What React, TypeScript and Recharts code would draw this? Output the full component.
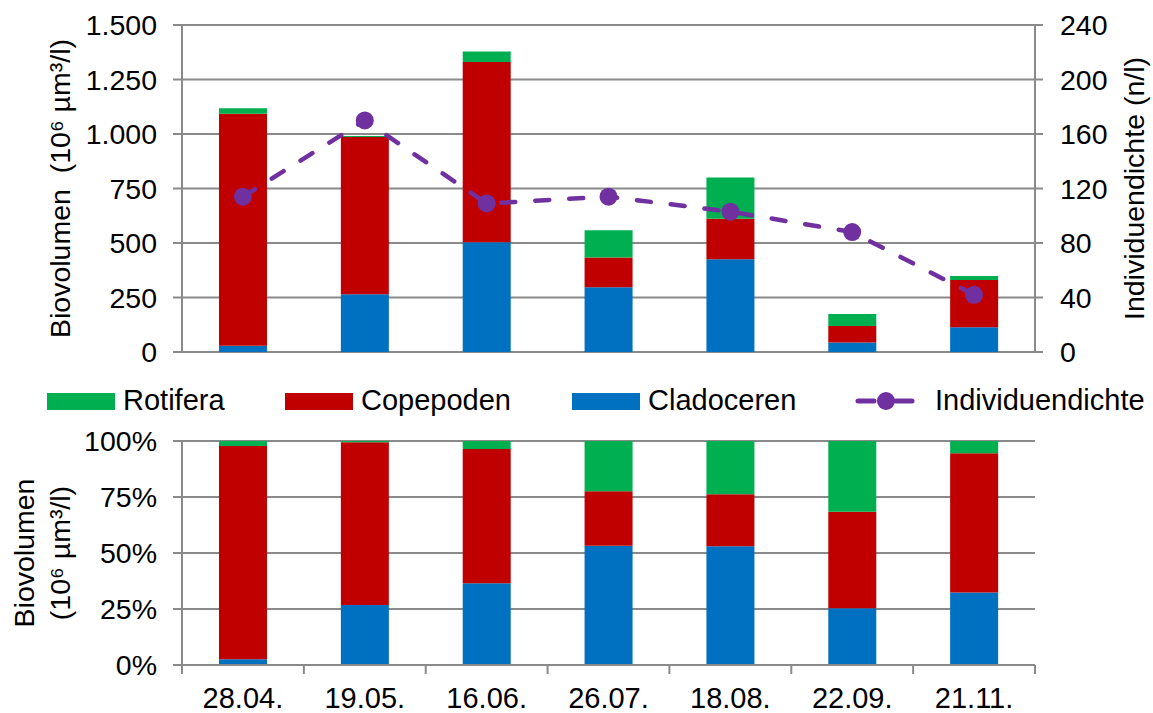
import { ComposedChart, BarChart, Bar, Line, XAxis, YAxis, CartesianGrid, Label } from 'recharts';

const dates = ['28.04.', '19.05.', '16.06.', '26.07.', '18.08.', '22.09.', '21.11.'];
// Biovolumen (10^6 µm³/l)
const cladoceren = [29, 265, 503, 297, 425, 44, 113];
const copepoden = [1064, 721, 827, 136, 186, 75, 217];
const rotifera = [25, 5, 49, 125, 190, 55, 19];
// Individuendichte (n/l)
const individuendichte = [114, 170, 109, 114, 103, 88, 42];

const volumeTicks = [0, 250, 500, 750, 1000, 1250, 1500];
const densityTicks = [0, 40, 80, 120, 160, 200, 240];
const shareTicks = [0, 0.25, 0.5, 0.75, 1];

const data = dates.map((date, i) => ({
  date,
  cladoceren: cladoceren[i],
  copepoden: copepoden[i],
  rotifera: rotifera[i],
  dichte: individuendichte[i],
}));

const FONT = '"Liberation Sans", Arial, sans-serif';
const GRID = '#8a8a8a';
const BLUE = '#0070C0';
const RED = '#C00000';
const GREEN = '#00B050';
const PURPLE = '#7030A0';
const W = 1153;

const tickStyle = { fill: '#000', fontSize: 28.5, fontFamily: FONT };

const fmtVolume = (v: number) => String(v).replace(/\B(?=(\d{3})+(?!\d))/g, '.');
const fmtShare = (v: number) => `${Math.round(v * 100)}%`;

// rotated axis title, one <text> per line, baselines at given x
function AxisTitle(props: any) {
  const { viewBox, lines, xs } = props;
  const cy = viewBox.y + viewBox.height / 2;
  return (
    <g>
      {lines.map((line: string, i: number) => (
        <text
          key={i}
          x={xs[i]}
          y={cy}
          transform={`rotate(-90, ${xs[i]}, ${cy})`}
          textAnchor="middle"
          fontSize={28.5}
          fontFamily={FONT}
          fill="#000"
          style={{ whiteSpace: 'pre' }}
        >
          {line}
        </text>
      ))}
    </g>
  );
}

// Excel-style category axis: tick marks between categories, label in the middle
function DateTick(props: any) {
  const { x, y, payload, index, width, visibleTicksCount } = props;
  const count = visibleTicksCount || 7;
  const half = (width || 853) / count / 2;
  const last = index === count - 1;
  return (
    <g>
      <line x1={x - half} x2={x - half} y1={y} y2={y + 9} stroke={GRID} strokeWidth={2} />
      {last && <line x1={x + half} x2={x + half} y1={y} y2={y + 9} stroke={GRID} strokeWidth={2} />}
      <text x={x} y={y + 43} textAnchor="middle" fontSize={29} fontFamily={FONT} fill="#000">
        {payload.value}
      </text>
    </g>
  );
}

function LegendRow() {
  const boxes = [
    { name: 'Rotifera', color: GREEN, x: 47 },
    { name: 'Copepoden', color: RED, x: 285 },
    { name: 'Cladoceren', color: BLUE, x: 572 },
  ];
  return (
    <svg width={W} height={40} style={{ position: 'absolute', left: 0, top: 380 }}>
      {boxes.map((b) => (
        <g key={b.name}>
          <rect x={b.x} y={13} width={68} height={17} fill={b.color} />
          <text x={b.x + 76} y={30} fontSize={29} fontFamily={FONT} fill="#000">
            {b.name}
          </text>
        </g>
      ))}
      <line x1={858} x2={874} y1={21} y2={21} stroke={PURPLE} strokeWidth={5} strokeLinecap="round" />
      <line x1={896} x2={912} y1={21} y2={21} stroke={PURPLE} strokeWidth={5} strokeLinecap="round" />
      <circle cx={886} cy={21} r={9} fill={PURPLE} />
      <text x={935} y={30} fontSize={29} fontFamily={FONT} fill="#000">
        Individuendichte
      </text>
    </svg>
  );
}

export default function App() {
  return (
    <div style={{ position: 'absolute', left: 0, top: 0, width: W, height: 713, background: '#fff' }}>
      <div style={{ position: 'absolute', left: 0, top: 0 }}>
        <ComposedChart width={W} height={375} data={data} margin={{ top: 25, right: 0, bottom: 23, left: 0 }}>
          <CartesianGrid vertical={false} stroke={GRID} strokeWidth={2} yAxisId="vol" />
          <XAxis dataKey="date" hide />
          <YAxis
            yAxisId="vol"
            domain={[0, 1500]}
            ticks={volumeTicks}
            interval={0}
            width={182}
            tickSize={9}
            tickMargin={16}
            tick={tickStyle}
            tickFormatter={fmtVolume}
            axisLine={{ stroke: GRID, strokeWidth: 2 }}
            tickLine={{ stroke: GRID, strokeWidth: 2 }}
            label={<Label content={<AxisTitle lines={['Biovolumen  (10⁶ µm³/l)']} xs={[70]} />} />}
          />
          <YAxis
            yAxisId="dens"
            orientation="right"
            domain={[0, 240]}
            ticks={densityTicks}
            interval={0}
            width={118}
            tickSize={8}
            tickMargin={17}
            tick={{ ...tickStyle, textAnchor: 'start' }}
            axisLine={{ stroke: GRID, strokeWidth: 2 }}
            tickLine={{ stroke: GRID, strokeWidth: 2 }}
            label={<Label content={<AxisTitle lines={['Individuendichte (n/l)']} xs={[1144]} />} />}
          />
          <Bar yAxisId="vol" dataKey="cladoceren" name="Cladoceren" stackId="v" fill={BLUE} barSize={48} isAnimationActive={false} />
          <Bar yAxisId="vol" dataKey="copepoden" name="Copepoden" stackId="v" fill={RED} barSize={48} isAnimationActive={false} />
          <Bar yAxisId="vol" dataKey="rotifera" name="Rotifera" stackId="v" fill={GREEN} barSize={48} isAnimationActive={false} />
          <Line
            yAxisId="dens"
            type="linear"
            dataKey="dichte"
            name="Individuendichte"
            stroke={PURPLE}
            strokeWidth={4.5}
            strokeDasharray="14 20"
            strokeLinecap="round"
            dot={{ r: 9, fill: PURPLE, stroke: PURPLE, strokeWidth: 0, strokeDasharray: '' }}
            isAnimationActive={false}
          />
        </ComposedChart>
      </div>

      <LegendRow />

      <div style={{ position: 'absolute', left: 0, top: 420 }}>
        <BarChart width={W} height={293} data={data} stackOffset="expand" margin={{ top: 21, right: 118, bottom: 0, left: 0 }}>
          <CartesianGrid vertical={false} stroke={GRID} strokeWidth={2} />
          <XAxis
            dataKey="date"
            height={48}
            interval={0}
            tickSize={0}
            tickMargin={0}
            tickLine={false}
            axisLine={{ stroke: GRID, strokeWidth: 2 }}
            tick={<DateTick />}
          />
          <YAxis
            domain={[0, 1]}
            ticks={shareTicks}
            interval={0}
            width={182}
            tickSize={9}
            tickMargin={16}
            tick={tickStyle}
            tickFormatter={fmtShare}
            axisLine={{ stroke: GRID, strokeWidth: 2 }}
            tickLine={{ stroke: GRID, strokeWidth: 2 }}
            label={<Label content={<AxisTitle lines={['Biovolumen', '(10⁶ µm³/l)']} xs={[34, 70]} />} />}
          />
          <Bar dataKey="cladoceren" name="Cladoceren" stackId="p" fill={BLUE} barSize={48} isAnimationActive={false} />
          <Bar dataKey="copepoden" name="Copepoden" stackId="p" fill={RED} barSize={48} isAnimationActive={false} />
          <Bar dataKey="rotifera" name="Rotifera" stackId="p" fill={GREEN} barSize={48} isAnimationActive={false} />
        </BarChart>
      </div>
    </div>
  );
}
